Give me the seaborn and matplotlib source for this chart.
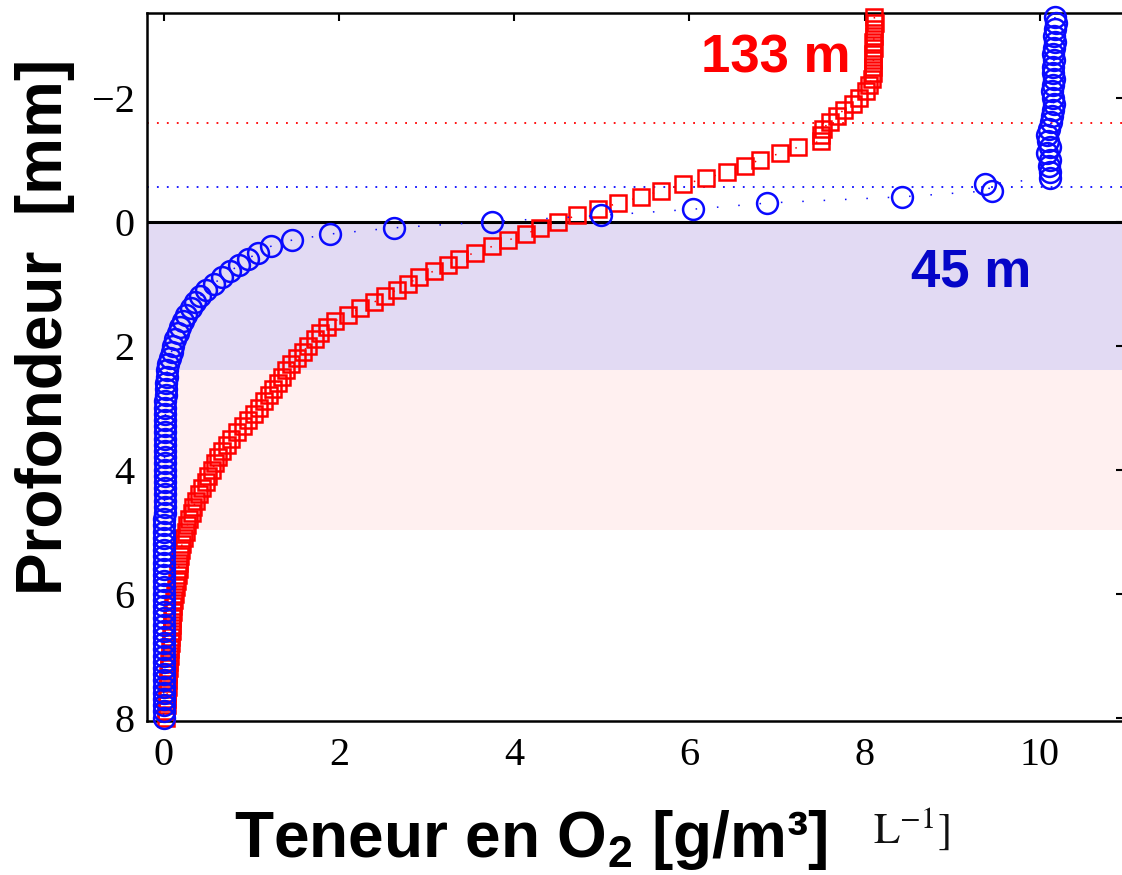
import matplotlib
matplotlib.use("Agg")
import matplotlib.pyplot as plt
import seaborn as sns
import pandas as pd

# Sampling depths of the microprofiles (mm, negative = above the sediment surface)
depth_mm = [
    -3.3, -3.2, -3.1, -3.0, -2.9, -2.8, -2.7, -2.6, -2.5, -2.4,
    -2.3, -2.2, -2.1, -2.0, -1.9, -1.8, -1.7, -1.6, -1.5, -1.4,
    -1.3, -1.2, -1.1, -1.0, -0.9, -0.8, -0.7, -0.6, -0.5, -0.4,
    -0.3, -0.2, -0.1, 0.0, 0.1, 0.2, 0.3, 0.4, 0.5, 0.6,
    0.7, 0.8, 0.9, 1.0, 1.1, 1.2, 1.3, 1.4, 1.5, 1.6,
    1.7, 1.8, 1.9, 2.0, 2.1, 2.2, 2.3, 2.4, 2.5, 2.6,
    2.7, 2.8, 2.9, 3.0, 3.1, 3.2, 3.3, 3.4, 3.5, 3.6,
    3.7, 3.8, 3.9, 4.0, 4.1, 4.2, 4.3, 4.4, 4.5, 4.6,
    4.7, 4.8, 4.9, 5.0, 5.1, 5.2, 5.3, 5.4, 5.5, 5.6,
    5.7, 5.8, 5.9, 6.0, 6.1, 6.2, 6.3, 6.4, 6.5, 6.6,
    6.7, 6.8, 6.9, 7.0, 7.1, 7.2, 7.3, 7.4, 7.5, 7.6,
    7.7, 7.8, 7.9, 8.0,
]

# O2 content (g/m3) at the 133 m station
o2_133m = [
    8.11, 8.12, 8.11, 8.11, 8.10, 8.11, 8.10, 8.10, 8.09, 8.09,
    8.08, 8.05, 8.02, 7.94, 7.87, 7.76, 7.68, 7.60, 7.52, 7.50,
    7.50, 7.24, 7.03, 6.81, 6.63, 6.43, 6.19, 5.93, 5.68, 5.45,
    5.19, 4.96, 4.72, 4.50, 4.30, 4.13, 3.93, 3.75, 3.55, 3.37,
    3.24, 3.08, 2.91, 2.79, 2.66, 2.53, 2.40, 2.24, 2.10, 1.96,
    1.86, 1.79, 1.73, 1.65, 1.59, 1.52, 1.45, 1.40, 1.35, 1.30,
    1.25, 1.20, 1.14, 1.09, 1.03, 0.96, 0.91, 0.84, 0.77, 0.72,
    0.67, 0.62, 0.59, 0.55, 0.51, 0.48, 0.44, 0.40, 0.37, 0.34,
    0.32, 0.29, 0.27, 0.25, 0.23, 0.21, 0.20, 0.19, 0.18, 0.17,
    0.16, 0.15, 0.14, 0.13, 0.12, 0.11, 0.11, 0.10, 0.09, 0.09,
    0.08, 0.08, 0.07, 0.07, 0.06, 0.06, 0.05, 0.05, 0.05, 0.04,
    0.04, 0.04, 0.03, 0.03,
]

# O2 content (g/m3) at the 45 m station
o2_45m = [
    10.17, 10.18, 10.17, 10.16, 10.17, 10.16, 10.15, 10.16, 10.15, 10.15,
    10.16, 10.15, 10.14, 10.15, 10.16, 10.15, 10.14, 10.13, 10.10, 10.08,
    10.09, 10.11, 10.08, 10.12, 10.10, 10.11, 10.11, 9.37, 9.45, 8.43,
    6.89, 6.04, 4.99, 3.75, 2.63, 1.90, 1.46, 1.22, 1.08, 0.96,
    0.86, 0.76, 0.67, 0.57, 0.48, 0.42, 0.36, 0.31, 0.26, 0.22,
    0.19, 0.16, 0.13, 0.11, 0.09, 0.07, 0.05, 0.04, 0.04, 0.03,
    0.03, 0.03, 0.02, 0.02, 0.02, 0.02, 0.02, 0.02, 0.01, 0.01,
    0.01, 0.01, 0.01, 0.01, 0.01, 0.01, 0.01, 0.01, 0.01, 0.01,
    0.01, 0.00, 0.00, 0.00, 0.00, 0.00, 0.00, 0.00, 0.00, 0.00,
    0.00, 0.00, 0.00, 0.00, 0.00, 0.00, 0.00, 0.00, 0.00, 0.00,
    0.00, 0.00, 0.00, 0.00, 0.00, 0.00, 0.00, 0.00, 0.00, 0.00,
    0.00, 0.00, 0.00, 0.00,
]

x_ticks = [0, 2, 4, 6, 8, 10]
y_ticks = [-2, 0, 2, 4, 6, 8]

# Diffusive boundary layer tops and sediment layers (mm)
dbl_top_133m = -1.59
dbl_top_45m = -0.56
oxic_layer = (0.0, 2.39)
suboxic_layer = (2.39, 4.97)

RED = "#ff0000"
BLUE = "#0a0aff"

sns.set_theme(style="white")
plt.rcParams.update({
    "font.family": ["Liberation Serif", "DejaVu Serif"],
    "mathtext.fontset": "custom",
    "mathtext.rm": "Liberation Sans:bold",
    "mathtext.it": "Liberation Sans:bold",
    "mathtext.bf": "Liberation Sans:bold",
    "axes.linewidth": 1.8,
    "axes.edgecolor": "black",
    "text.color": "black",
    "axes.labelcolor": "black",
    "xtick.color": "black",
    "ytick.color": "black",
})

fig = plt.figure(figsize=(11.22, 8.75), dpi=100)
ax = fig.add_axes([0.131, 0.1763, 0.8708, 0.8085])

ax.axhspan(*oxic_layer, color="#e2daf3", lw=0, zorder=0)
ax.axhspan(*suboxic_layer, color="#fff0f0", lw=0, zorder=0)
ax.axhline(dbl_top_133m, color=RED, lw=1.3, ls=(0, (1, 4.5)), zorder=1)
ax.axhline(dbl_top_45m, color=BLUE, lw=1.3, ls=(0, (1, 4.5)), zorder=1)
ax.axhline(0, color="black", lw=2.2, zorder=1.5)

profiles = pd.DataFrame({"depth": depth_mm, "o2_133m": o2_133m, "o2_45m": o2_45m})

sns.lineplot(data=profiles, x="o2_133m", y="depth", sort=False, estimator=None,
             color=RED, marker="s", markersize=11.5, markerfacecolor="none",
             markeredgecolor=RED, markeredgewidth=1.8, linewidth=1.1,
             linestyle=(0, (1, 13)), clip_on=False, zorder=3, ax=ax)
sns.lineplot(data=profiles, x="o2_45m", y="depth", sort=False, estimator=None,
             color=BLUE, marker="o", markersize=15, markerfacecolor="none",
             markeredgecolor=BLUE, markeredgewidth=1.8, linewidth=1.1,
             linestyle=(0, (1, 13)), clip_on=False, zorder=4, ax=ax)

ax.set_xlim(-0.19, 10.96)
ax.set_ylim(8.05, -3.36)
ax.set_xticks(x_ticks)
ax.set_yticks(y_ticks)
ax.tick_params(direction="in", length=6, width=1.5, top=True, right=True,
               labelsize=29, colors="black")
ax.tick_params(axis="x", pad=12)
ax.tick_params(axis="y", pad=9)
for sp in ax.spines.values():
    sp.set_visible(True)
    sp.set_color("black")

ax.set_xlabel("Teneur en O$_2$ [g/m³]", fontfamily="Liberation Sans",
              fontweight="bold", fontsize=46)
ax.xaxis.label.set_va("baseline")
ax.xaxis.set_label_coords(0.393, -0.1927)
ax.set_ylabel("Profondeur  [mm]", fontfamily="Liberation Sans",
              fontweight="bold", fontsize=46)
ax.yaxis.label.set_va("center")
ax.yaxis.label.set_ha("center")
ax.yaxis.set_label_coords(-0.104, 0.5566)

ax.text(6.98, -2.40, "133 m", color=RED, fontfamily="Liberation Sans",
        fontweight="bold", fontsize=38, ha="center", va="baseline", zorder=5)
ax.text(9.21, 1.05, "45 m", color="#0505c8", fontfamily="Liberation Sans",
        fontweight="bold", fontsize=38, ha="center", va="baseline", zorder=5)

fig.text(873 / 1122, 1 - 843 / 875, r"$\mathrm{L}^{-1}]$", math_fontfamily="stix",
         fontsize=31, color="#111111", ha="left", va="baseline")

fig.savefig("out.png", dpi=100)
